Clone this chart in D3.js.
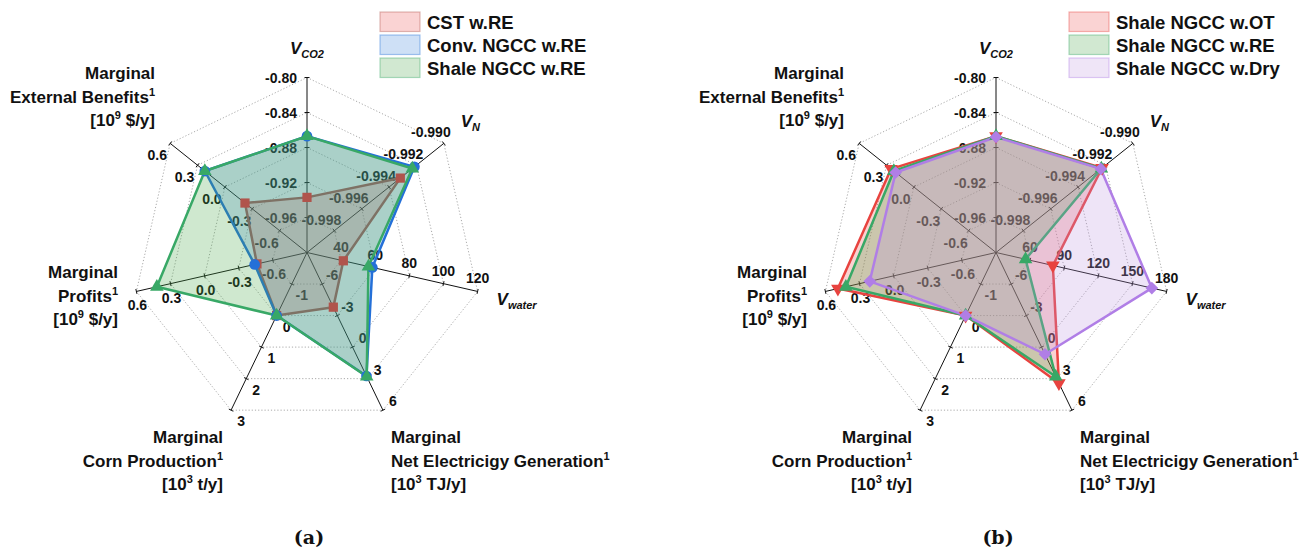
<!DOCTYPE html>
<html>
<head>
<meta charset="utf-8">
<script src="https://cdn.jsdelivr.net/npm/d3@7"></script>
<style>
  html, body { margin: 0; padding: 0; background: #fff; }
  svg { display: block; font-family: "Liberation Sans", Arial, sans-serif; }
</style>
</head>
<body>
<svg id="chart" width="1312" height="557"></svg>
<script>
// ---- Axis tick values (clockwise from the top; the centre is one step below the first tick)
const tickCO2    = [-0.96, -0.92, -0.88, -0.84, -0.80];
const tickN      = [-0.998, -0.996, -0.994, -0.992, -0.990];
const tickWaterA = [40, 60, 80, 100, 120];
const tickWaterB = [60, 90, 120, 150, 180];
const tickElec   = [-6, -3, 0, 3, 6];
const tickCorn   = [-1, 0, 1, 2, 3];
const tickProfit = [-0.6, -0.3, 0.0, 0.3, 0.6];
const tickExt    = [-0.6, -0.3, 0.0, 0.3, 0.6];
const tickFormats = [".2f", ".3f", "d", "d", "d", ".1f", ".1f"];

// ---- Series values, in axis order: V_CO2, V_N, V_water, net electricity, corn, profits, external benefits
const cstRE    = [-0.937, -0.99318, 41.3, -3.8, 0, -0.46, -0.22];
const convRE   = [-0.867, -0.99215, 58.3, 2.75, 0, -0.44, 0.22];
const shaleRE  = [-0.867, -0.99230, 56.0, 2.8, 0, 0.42, 0.22];
const shaleOT  = [-0.867, -0.99225, 80.0, 3.43, 0, 0.49, 0.25];
const shaleDry = [-0.868, -0.99234, 167.0, 0.68, 0, 0.21, 0.20];

const namesA = ["CST w.RE", "Conv. NGCC w.RE", "Shale NGCC w.RE"];
const namesB = ["Shale NGCC w.OT", "Shale NGCC w.RE", "Shale NGCC w.Dry"];

// ---- Axis titles
const shortTitles = [["V", "CO2"], ["V", "N"], ["V", "water"]];
const longTitles = [
  ["Marginal", "Net Electricigy Generation^1", "[10^3 TJ/y]"],
  ["Marginal", "Corn Production^1", "[10^3 t/y]"],
  ["Marginal", "Profits^1", "[10^9 $/y]"],
  ["Marginal", "External Benefits^1", "[10^9 $/y]"]
];

// ---- Styling
const R = 175;
const N_AX = 7;
const fmtLocale = d3.formatLocale({ decimal: ".", thousands: ",", grouping: [3], currency: ["$", ""], minus: "-" });
const styleA = [
  { line: "#b0544c", fill: "#eb5050", sym: "square" },
  { line: "#2470d8", fill: "#3c82dc", sym: "circle" },
  { line: "#38a866", fill: "#46a546", sym: "triangle" }
];
const styleB = [
  { line: "#e8433f", fill: "#eb5050", sym: "triangleDown" },
  { line: "#38a866", fill: "#46a546", sym: "triangle" },
  { line: "#b07ee6", fill: "#be96e1", sym: "diamond" }
];
// tick label offsets from the tick position, per axis
const labelOffsets = [[-10, 0, "end"], [-13, -11, "middle"], [0, -13, "middle"], [10, -9, "middle"],
                      [10, 11, "middle"], [1, 14, "middle"], [-13, 12, "middle"]];
const titleRadii = [204, 209, 215];

const svg = d3.select("#chart");
const ang = i => i * 2 * Math.PI / N_AX;
const px = (i, r) => Math.sin(ang(i)) * r;
const py = (i, r) => -Math.cos(ang(i)) * r;

function symbolPath(kind) {
  if (kind === "square") return { d: d3.symbol(d3.symbolSquare, 85)(), rot: 0 };
  if (kind === "circle") return { d: d3.symbol(d3.symbolCircle, 90)(), rot: 0 };
  if (kind === "triangle") return { d: d3.symbol(d3.symbolTriangle, 80)(), rot: 0 };
  if (kind === "triangleDown") return { d: d3.symbol(d3.symbolTriangle, 80)(), rot: 180 };
  return { d: d3.symbol(d3.symbolSquare, 80)(), rot: 45 };
}

// writes a line with ^-marked superscripts into a text element
function richLine(textSel, str) {
  const parts = str.split(/\^(\d)/);
  parts.forEach((p, k) => {
    if (p === "") return;
    if (k % 2 === 1) {
      textSel.append("tspan").attr("font-size", 11).attr("dy", -7).text(p);
    } else {
      const t = textSel.append("tspan").text(p);
      if (k > 0) t.attr("dy", 7);
    }
  });
}

function panel(cx, cy, waterTicks, seriesVals, names, styles, tag) {
  const ticks = [tickCO2, tickN, waterTicks, tickElec, tickCorn, tickProfit, tickExt];
  const scales = ticks.map(t => d3.scaleLinear()
    .domain([t[0] - (t[1] - t[0]), t[t.length - 1]]).range([0, R]));
  const g = svg.append("g").attr("transform", `translate(${cx},${cy})`);

  // dotted grid rings
  const ringRadii = tickCO2.map(v => scales[0](v));
  g.selectAll("path.ring").data(ringRadii).join("path")
    .attr("class", "ring")
    .attr("d", r => d3.line()(d3.range(N_AX).map(i => [px(i, r), py(i, r)])) + "Z")
    .attr("fill", "none").attr("stroke", "#a0a0a0").attr("stroke-width", 0.9)
    .attr("stroke-dasharray", "1.2,2");

  // spokes, ticks and tick labels
  d3.range(N_AX).forEach(i => {
    const a = ang(i);
    g.append("line").attr("x1", 0).attr("y1", 0).attr("x2", px(i, R)).attr("y2", py(i, R))
      .attr("stroke", "#111").attr("stroke-width", 1);
    const nx = Math.cos(a) * 2.5, ny = Math.sin(a) * 2.5;
    const fmt = fmtLocale.format(tickFormats[i]);
    ticks[i].forEach(v => {
      const r = scales[i](v);
      const x = px(i, r), y = py(i, r);
      g.append("line").attr("x1", x - nx).attr("y1", y - ny).attr("x2", x + nx).attr("y2", y + ny)
        .attr("stroke", "#111").attr("stroke-width", 1);
      const o = labelOffsets[i];
      g.append("text").attr("x", x + o[0]).attr("y", y + o[1]).attr("dy", "0.36em")
        .attr("text-anchor", o[2]).attr("font-size", 14).attr("font-weight", "bold")
        .attr("fill", "#111").text(fmt(v));
    });
  });

  // short axis titles with subscripts
  shortTitles.forEach((tt, i) => {
    const r = titleRadii[i];
    const t = g.append("text").attr("x", px(i, r)).attr("y", py(i, r) + 5)
      .attr("text-anchor", "middle").attr("font-weight", "bold").attr("font-style", "italic")
      .attr("font-size", 17).attr("fill", "#111");
    t.append("tspan").text(tt[0]);
    t.append("tspan").attr("font-size", 11).attr("dy", 4).text(tt[1]);
  });

  // long axis titles
  const longPos = [
    { x: 84, y: 190.5, anchor: "start" },
    { x: -84, y: 190.5, anchor: "end" },
    { x: -189, y: 25.5, anchor: "end" },
    { x: -152, y: -173.5, anchor: "end" }
  ];
  longTitles.forEach((lines, k) => {
    const p = longPos[k];
    lines.forEach((ln, j) => {
      const t = g.append("text").attr("x", p.x).attr("y", p.y + j * 23.5)
        .attr("text-anchor", p.anchor).attr("font-weight", "bold").attr("font-size", 17)
        .attr("fill", "#111");
      richLine(t, ln);
    });
  });

  // series polygons
  const line = d3.line().curve(d3.curveLinearClosed);
  seriesVals.forEach((vals, s) => {
    const st = styles[s];
    const pts = vals.map((v, i) => [px(i, scales[i](v)), py(i, scales[i](v))]);
    g.append("path").attr("d", line(pts))
      .attr("fill", st.fill).attr("fill-opacity", 0.26)
      .attr("stroke", st.line).attr("stroke-width", 2.5).attr("stroke-linejoin", "round");
  });
  seriesVals.forEach((vals, s) => {
    const st = styles[s];
    const sp = symbolPath(st.sym);
    vals.forEach((v, i) => {
      const r = scales[i](v);
      g.append("path").attr("d", sp.d)
        .attr("transform", `translate(${px(i, r)},${py(i, r)}) rotate(${sp.rot})`)
        .attr("fill", st.line);
    });
  });

  // legend
  names.forEach((nm, s) => {
    const st = styles[s];
    const y0 = -240.5 + s * 23;
    g.append("rect").attr("x", 73).attr("y", y0).attr("width", 40).attr("height", 19.5)
      .attr("fill", st.fill).attr("fill-opacity", 0.25)
      .attr("stroke", st.line).attr("stroke-opacity", 0.4).attr("stroke-width", 1.2);
    g.append("text").attr("x", 120).attr("y", y0 + 16.5).attr("font-size", 18.5)
      .attr("font-weight", "bold").attr("fill", "#111").text(nm);
  });

  // panel tag
  g.append("text").attr("x", 2).attr("y", 291.5).attr("text-anchor", "middle")
    .attr("font-family", "'DejaVu Serif', serif").attr("font-weight", "bold")
    .attr("font-size", 19).attr("fill", "#111").text(tag);
}

panel(307, 252.5, tickWaterA, [cstRE, convRE, shaleRE], namesA, styleA, "(a)");
panel(996, 252.5, tickWaterB, [shaleOT, shaleRE, shaleDry], namesB, styleB, "(b)");
</script>
</body>
</html>
